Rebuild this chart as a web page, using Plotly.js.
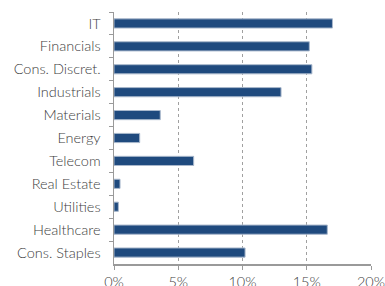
<!DOCTYPE html>
<html>
<head>
<meta charset="utf-8">
<script src="https://cdn.plot.ly/plotly-3.0.1.min.js"></script>
<style>html,body{margin:0;padding:0;background:#fff}#chart{width:385px;height:286px}</style>
</head>
<body>
<div id="chart"></div>
<script>
var sectors = ["IT","Financials","Cons. Discret.","Industrials","Materials","Energy","Telecom","Real Estate","Utilities","Healthcare","Cons. Staples"];
var weights = [17.0,15.2,15.4,13.0,3.6,2.0,6.2,0.47,0.34,16.6,10.2];
var xTicks = [0,5,10,15,20];
var xTickLabels = ["0%","5%","10%","15%","20%"];

var trace = {
  type: "bar",
  orientation: "h",
  x: weights,
  y: sectors,
  marker: {color: "#1f4a7e", line: {color: "#a9b8cc", width: 1}},
  hoverinfo: "skip"
};

var layout = {
  width: 385, height: 286,
  margin: {l: 114, r: 14, t: 12, b: 22},
  paper_bgcolor: "#fff", plot_bgcolor: "#fff",
  bargap: 0.6,
  showlegend: false,
  font: {family: "Lato, 'Open Sans', sans-serif", size: 14.5, color: "#404040"},
  xaxis: {
    range: [0, 20],
    tickmode: "array", tickvals: xTicks, ticktext: xTickLabels,
    showgrid: true, gridcolor: "#a0a0a0", griddash: "dot", gridwidth: 1,
    showline: true, linecolor: "#9a9a9a", linewidth: 1.5,
    ticks: "outside", ticklen: 4, tickcolor: "#9a9a9a",
    ticklabeloverflow: "allow",
    zeroline: false, fixedrange: true,
    tickfont: {size: 14.5, color: "#404040", weight: 300}
  },
  yaxis: {
    type: "category",
    autorange: "reversed",
    showline: true, linecolor: "#9a9a9a", linewidth: 1.5,
    ticks: "outside", ticklen: 4, tickcolor: "#9a9a9a", tickson: "boundaries",
    ticklabelstandoff: 9,
    showgrid: false, zeroline: false, fixedrange: true,
    tickfont: {size: 14.5, color: "#404040", weight: 300}
  }
};

Plotly.newPlot("chart", [trace], layout, {displayModeBar: false, staticPlot: true});
</script>
</body>
</html>
